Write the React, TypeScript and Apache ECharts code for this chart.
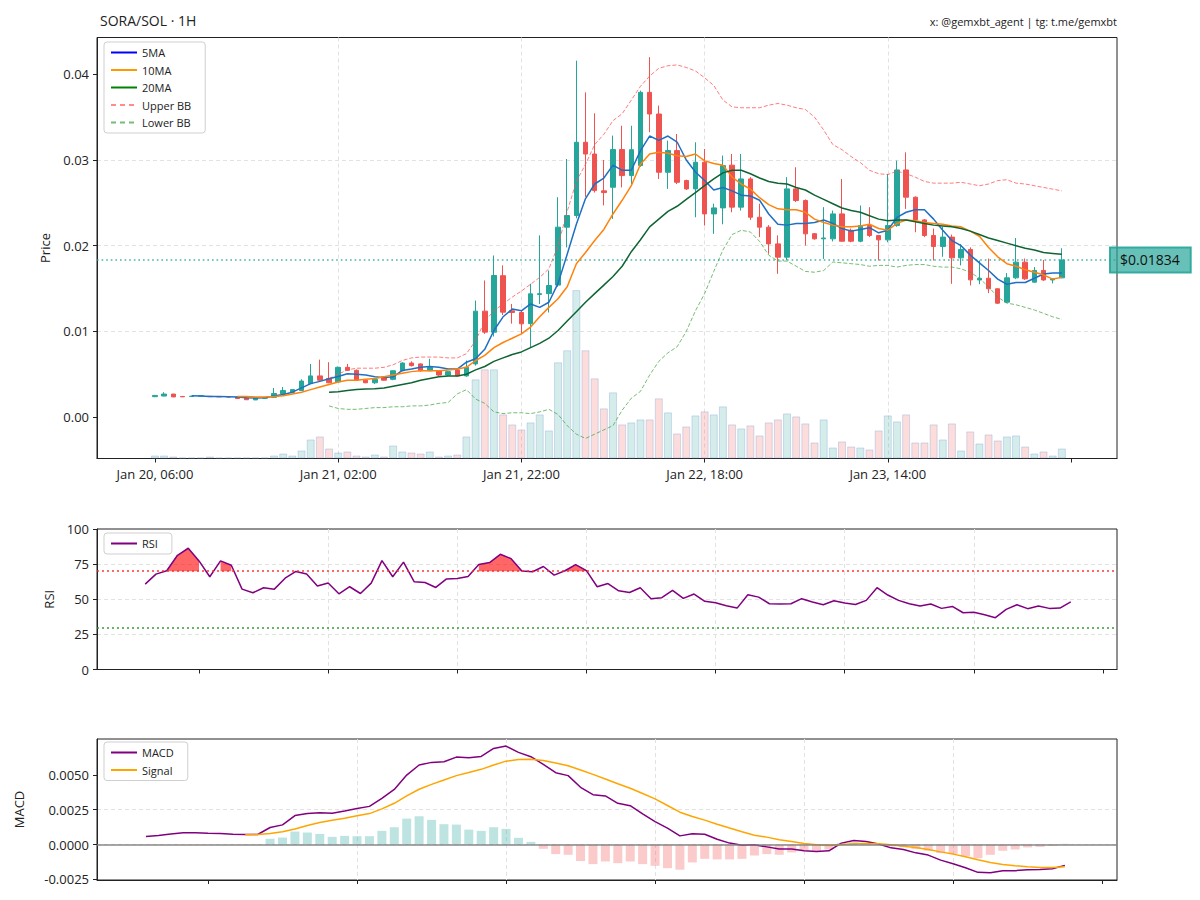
import React, { useEffect, useRef } from 'react';
import * as echarts from 'echarts';

const UP = '#26a69a';
const DOWN = '#ef5350';
const FONT = 'Open Sans';

// ---------- data ----------
const xTickIndex = [0, 20, 40, 60, 80];
const xTickLabels = ['Jan 20, 06:00', 'Jan 21, 02:00', 'Jan 21, 22:00', 'Jan 22, 18:00', 'Jan 23, 14:00'];
const priceTicks = [0, 0.01, 0.02, 0.03, 0.04];
const macdTicks = [-0.0025, 0, 0.0025, 0.005];

const opens = [
  0.00238, 0.00245, 0.00268, 0.0024, 0.0024, 0.00245, 0.00242, 0.00238, 0.00236, 0.00234,
  0.00222, 0.002, 0.0022, 0.0023, 0.0027, 0.00285, 0.0031, 0.0039, 0.0048, 0.0045,
  0.0041, 0.0058, 0.00545, 0.0043, 0.004, 0.0047, 0.0044, 0.0054, 0.0063, 0.0062,
  0.0054, 0.0054, 0.0049, 0.0055, 0.0048, 0.0062, 0.01236, 0.0099, 0.0165, 0.0124,
  0.0122, 0.0109, 0.0143, 0.0144, 0.0154, 0.02216, 0.02352, 0.03207, 0.0307, 0.0264,
  0.02682, 0.03122, 0.02818, 0.02935, 0.0379, 0.03537, 0.02857, 0.0311, 0.0276, 0.02663,
  0.02974, 0.02371, 0.02441, 0.0294, 0.0245, 0.02779, 0.02332, 0.02216, 0.02021, 0.01866,
  0.02663, 0.02527, 0.0214, 0.0208, 0.0208, 0.02371, 0.0218, 0.02052, 0.02235, 0.02119,
  0.02068, 0.02235, 0.02884, 0.02566, 0.02301, 0.02119, 0.0199, 0.021, 0.01858, 0.01956,
  0.016, 0.0162, 0.01497, 0.01341, 0.01625, 0.01808, 0.01574, 0.01711, 0.016, 0.01625,
];
const closes = [
  0.00252, 0.00268, 0.00235, 0.00236, 0.00243, 0.00248, 0.00238, 0.00235, 0.00234, 0.00216,
  0.00202, 0.00222, 0.00224, 0.00275, 0.0031, 0.0032, 0.0042, 0.0048, 0.0043, 0.004,
  0.0058, 0.00545, 0.0043, 0.004, 0.0044, 0.0043, 0.0054, 0.0063, 0.006, 0.0054,
  0.0058, 0.0049, 0.0053, 0.0048, 0.0058, 0.01236, 0.00991, 0.01652, 0.01224, 0.0122,
  0.01088, 0.01438, 0.0144, 0.01535, 0.02216, 0.02352, 0.03207, 0.0307, 0.02643, 0.0262,
  0.03122, 0.02818, 0.0312, 0.0379, 0.03537, 0.02857, 0.0311, 0.0274, 0.02663, 0.02974,
  0.02371, 0.02441, 0.02935, 0.0245, 0.02779, 0.02332, 0.02216, 0.02021, 0.01866, 0.02663,
  0.02527, 0.02138, 0.0208, 0.0209, 0.02371, 0.02052, 0.02052, 0.02235, 0.02119, 0.02068,
  0.02235, 0.02884, 0.02566, 0.02301, 0.02119, 0.0199, 0.021, 0.01858, 0.01956, 0.01601,
  0.0162, 0.01497, 0.01329, 0.01625, 0.01808, 0.01613, 0.01711, 0.016, 0.0161, 0.01834,
];
const lows = [
  0.00232, 0.00242, 0.00232, 0.00234, 0.00238, 0.00242, 0.00236, 0.00233, 0.00232, 0.00214,
  0.002, 0.00198, 0.00218, 0.00228, 0.00268, 0.00282, 0.00305, 0.00385, 0.0042, 0.00395,
  0.00405, 0.0054, 0.0042, 0.00395, 0.00385, 0.00425, 0.0043, 0.00535, 0.0059, 0.0053,
  0.00535, 0.0048, 0.00485, 0.00475, 0.0047, 0.006, 0.0097, 0.0094, 0.0119, 0.0109,
  0.0097, 0.00816, 0.0132, 0.0122, 0.0152, 0.0198, 0.0232, 0.0257, 0.0262, 0.0247,
  0.02313, 0.0268, 0.0272, 0.0292, 0.03324, 0.02779, 0.02663, 0.0272, 0.0265, 0.02332,
  0.02235, 0.02138, 0.0225, 0.0239, 0.0241, 0.023, 0.021, 0.01905, 0.01671, 0.0183,
  0.0251, 0.02002, 0.0207, 0.01846, 0.0205, 0.0205, 0.0204, 0.0204, 0.021, 0.01827,
  0.0204, 0.0222, 0.02429, 0.02157, 0.021, 0.01827, 0.0187, 0.01555, 0.0177, 0.01536,
  0.0155, 0.01446, 0.0132, 0.0133, 0.0161, 0.016, 0.0157, 0.0159, 0.0156, 0.0162,
];
const highs = [
  0.00258, 0.0029, 0.0027, 0.00242, 0.00245, 0.00252, 0.00244, 0.0024, 0.00238, 0.00236,
  0.00224, 0.00226, 0.00228, 0.0034, 0.0035, 0.00325, 0.0044, 0.0062, 0.0067, 0.0064,
  0.0059, 0.0062, 0.00555, 0.00435, 0.00445, 0.00475, 0.00545, 0.0064, 0.0065, 0.00625,
  0.0068, 0.00545, 0.00535, 0.0056, 0.0066, 0.0136, 0.01594, 0.01886, 0.0177, 0.0132,
  0.0125, 0.01555, 0.0212, 0.0171, 0.02566, 0.03012, 0.0416, 0.0379, 0.03545, 0.03,
  0.03285, 0.034, 0.034, 0.0381, 0.042, 0.03635, 0.03226, 0.03304, 0.0277, 0.03207,
  0.03129, 0.0249, 0.03052, 0.0307, 0.0307, 0.028, 0.0249, 0.0224, 0.0212, 0.028,
  0.02915, 0.0254, 0.02145, 0.0245, 0.0241, 0.02779, 0.022, 0.02469, 0.0245, 0.02125,
  0.02838, 0.02993, 0.0309, 0.02575, 0.0231, 0.022, 0.0222, 0.0213, 0.0202, 0.0198,
  0.01827, 0.0185, 0.015, 0.0168, 0.0209, 0.0185, 0.0175, 0.01834, 0.0162, 0.0197,
];
const volumes = [
  3, 3, 2, 1, 1, 1, 2, 1, 1, 1,
  1, 1, 1, 3, 5, 3, 8, 19, 22, 10,
  6, 7, 3, 2, 4, 2, 13, 7, 6, 5,
  7, 2, 3, 4, 22, 79, 89, 89, 44, 34,
  29, 36, 44, 28, 96, 108, 168, 108, 80, 50,
  66, 34, 36, 39, 39, 60, 46, 25, 32, 43,
  47, 44, 52, 34, 30, 33, 23, 36, 39, 45,
  42, 35, 16, 39, 11, 17, 12, 11, 9, 28,
  43, 37, 44, 16, 16, 34, 19, 35, 8, 27,
  15, 24, 18, 22, 23, 12, 5, 7, 3, 10,
];

const MA5_START = 4;
const ma5 = [
  0.00248, 0.00245, 0.00241, 0.00239, 0.00237, 0.00233,
  0.00226, 0.00222, 0.00226, 0.00245, 0.00264, 0.0029, 0.0034, 0.0039, 0.00416, 0.00447,
  0.00474, 0.00505, 0.005, 0.0049, 0.0047, 0.0046, 0.0047, 0.00544, 0.0056, 0.0058,
  0.0059, 0.0058, 0.0056, 0.0056, 0.0064, 0.0068, 0.0079, 0.0101, 0.0117, 0.0126,
  0.0124, 0.0132, 0.0128, 0.0134, 0.0156, 0.019, 0.0225, 0.0255, 0.0272, 0.0279,
  0.0294, 0.0288, 0.0288, 0.0311, 0.0328, 0.0323, 0.0328, 0.0321, 0.03, 0.0286,
  0.0276, 0.0265, 0.0268, 0.0264, 0.0259, 0.0258, 0.0253, 0.0237, 0.0225, 0.0224,
  0.0226, 0.0226, 0.0227, 0.023, 0.0226, 0.022, 0.0217, 0.0219, 0.0221, 0.0215,
  0.0218, 0.0233, 0.0239, 0.0242, 0.0242, 0.0231, 0.0218, 0.0206, 0.02, 0.0189,
  0.018, 0.0171, 0.0161, 0.0155, 0.0157, 0.0157, 0.0162, 0.0167, 0.0168, 0.0168,
];
const MA10_START = 9;
const ma10 = [
  0.0024,
  0.0024, 0.00233, 0.00233, 0.0024, 0.00248, 0.0027, 0.0029, 0.0032, 0.0035, 0.0038,
  0.0041, 0.0043, 0.0043, 0.0044, 0.0045, 0.0047, 0.0049, 0.0051, 0.0053, 0.0054,
  0.0054, 0.0054, 0.0055, 0.0056, 0.0058, 0.0066, 0.0072, 0.0081, 0.0087, 0.0092,
  0.0097, 0.0105, 0.0117, 0.0128, 0.0138, 0.0152, 0.0179, 0.0192, 0.0206, 0.0219,
  0.0237, 0.0253, 0.027, 0.0295, 0.0307, 0.0309, 0.0308, 0.0305, 0.0304, 0.0307,
  0.0299, 0.0296, 0.0294, 0.028, 0.0272, 0.0266, 0.0256, 0.0248, 0.0243, 0.0242,
  0.0242, 0.0239, 0.0231, 0.0227, 0.0224, 0.0222, 0.0222, 0.0223, 0.0225, 0.022,
  0.0218, 0.0226, 0.023, 0.0229, 0.0227, 0.0226, 0.0225, 0.0223, 0.0222, 0.0217,
  0.0211, 0.0198, 0.0187, 0.0179, 0.0176, 0.0172, 0.0169, 0.0166, 0.0161, 0.0163,
];
const MA20_START = 19;
const ma20 = [
  0.0029,
  0.00295, 0.0031, 0.0032, 0.00326, 0.0033, 0.0034, 0.0036, 0.0038, 0.004, 0.0043,
  0.0045, 0.0047, 0.0048, 0.0048, 0.005, 0.0055, 0.0059, 0.0065, 0.0069, 0.0073,
  0.0076, 0.0081, 0.0086, 0.0092, 0.0101, 0.0112, 0.0123, 0.0134, 0.0144, 0.0154,
  0.0164, 0.0176, 0.0193, 0.0207, 0.0222, 0.0231, 0.024, 0.0246, 0.0254, 0.0262,
  0.027, 0.0278, 0.0285, 0.0288, 0.0288, 0.0284, 0.0279, 0.0275, 0.0273, 0.0272,
  0.0268, 0.0265, 0.0259, 0.0254, 0.0249, 0.0244, 0.0241, 0.0239, 0.0235, 0.0231,
  0.0229, 0.023, 0.023, 0.0228, 0.0226, 0.0224, 0.0223, 0.0222, 0.022, 0.0217,
  0.0213, 0.0209, 0.0206, 0.0203, 0.02, 0.0197, 0.0195, 0.0192, 0.0191, 0.019,
];
const BB_START = 19;
const upperBB = [
  0.0045,
  0.005, 0.0055, 0.0057, 0.0057, 0.0057, 0.0058, 0.0061, 0.0066, 0.0069, 0.007,
  0.007, 0.007, 0.0069, 0.0069, 0.0074, 0.0089, 0.0112, 0.0124, 0.0132, 0.014,
  0.0147, 0.0155, 0.0163, 0.0173, 0.02, 0.024, 0.0275, 0.0295, 0.0318, 0.033,
  0.0346, 0.0354, 0.037, 0.0386, 0.0398, 0.0407, 0.041, 0.0411, 0.0408, 0.0404,
  0.0396, 0.0387, 0.037, 0.0362, 0.0361, 0.0361, 0.0361, 0.0364, 0.0366, 0.0364,
  0.0361, 0.0359, 0.035, 0.0335, 0.0318, 0.0312, 0.0304, 0.0297, 0.0288, 0.0284,
  0.0283, 0.0287, 0.0284, 0.028, 0.0275, 0.0273, 0.0273, 0.0273, 0.0274, 0.0272,
  0.027, 0.0272, 0.0276, 0.0277, 0.0273, 0.0272, 0.027, 0.0268, 0.0266, 0.0264,
];
const lowerBB = [
  0.0013,
  0.001, 0.0009, 0.0009, 0.001, 0.0011, 0.0011, 0.0012, 0.0012, 0.0013, 0.0013,
  0.0014, 0.0016, 0.0017, 0.0027, 0.0032, 0.0021, 0.0016, 0.0006, 0.0004, 0.0005,
  0.0005, 0.0004, 0.0006, 0.0009, 0.0003, -0.001, -0.002, -0.0025, -0.002, -0.0015,
  -0.001, 0.0008, 0.0022, 0.003, 0.0049, 0.0065, 0.0075, 0.0082, 0.01, 0.0124,
  0.0144, 0.017, 0.0195, 0.0213, 0.0218, 0.0216, 0.0205, 0.0189, 0.0182, 0.0182,
  0.0176, 0.017, 0.0169, 0.0171, 0.0181, 0.018, 0.0179, 0.0178, 0.0176, 0.0177,
  0.0177, 0.0175, 0.0177, 0.0178, 0.0178, 0.0176, 0.0175, 0.0175, 0.0173, 0.0169,
  0.0162, 0.0152, 0.014, 0.0133, 0.0131, 0.0128, 0.0125, 0.0121, 0.0117, 0.0114,
];

const RSI_START = 13;
const rsi = [
  60.8, 67.9, 70.3, 81.3, 86.3, 77.3, 66.0, 77.3, 74.2, 57.2,
  54.6, 58.2, 57.2, 65.0, 69.8, 67.9, 59.4, 61.5, 53.9, 58.9,
  54.1, 61.5, 77.5, 66.0, 76.4, 62.4, 61.9, 58.4, 64.5, 64.8,
  66.2, 74.7, 76.1, 82.0, 78.9, 70.1, 69.6, 73.3, 67.2, 70.3,
  74.7, 70.4, 58.9, 61.2, 56.0, 54.8, 58.2, 50.4, 51.1, 56.3,
  50.6, 53.7, 48.5, 47.5, 45.4, 43.7, 53.2, 51.5, 46.8, 46.6,
  46.8, 50.4, 48.0, 46.1, 48.9, 47.3, 46.3, 49.2, 58.2, 53.0,
  49.2, 46.8, 45.2, 46.6, 43.5, 44.9, 40.4, 40.7, 39.0, 36.9,
  42.8, 46.1, 43.3, 45.2, 43.5, 43.7, 48.2,
];
const rsiTicks = [18, 30, 42, 54, 66, 78, 90, 102];

const MACD_START = 25;
const macd = [
  0.00057, 0.00064, 0.00076, 0.00084, 0.00084, 0.00081, 0.00079, 0.00074, 0.00072, 0.00072,
  0.00122, 0.00141, 0.00208, 0.00222, 0.00229, 0.00225, 0.00241, 0.00258, 0.00274, 0.00332,
  0.00396, 0.00499, 0.00571, 0.0059, 0.00595, 0.00628, 0.00623, 0.00633, 0.0069, 0.00707,
  0.00662, 0.00631, 0.00576, 0.00516, 0.00495, 0.00411, 0.00358, 0.00349, 0.00296, 0.00279,
  0.0022, 0.00165, 0.00118, 0.00062, 0.00077, 0.00074, 0.00038, 0.0001, -0.00005, -0.00002,
  -0.00017, -0.00033, -0.00033, -0.00045, -0.0005, -0.00045, 0.0001, 0.00029, 0.00022, 0.00003,
  -0.00024, -0.00036, -0.0006, -0.00076, -0.00112, -0.00138, -0.00167, -0.002, -0.00203, -0.00188,
  -0.00188, -0.00181, -0.00179, -0.00174, -0.0015,
];
const SIGNAL_START = 33;
const signal = [
  0.0007, 0.00072, 0.00079, 0.00091, 0.00112, 0.00136, 0.00158, 0.00174, 0.00189, 0.00206,
  0.00222, 0.00256, 0.00296, 0.00349, 0.00397, 0.00432, 0.00464, 0.00495, 0.00518, 0.0054,
  0.00571, 0.00599, 0.0061, 0.00613, 0.00604, 0.00585, 0.00566, 0.00535, 0.00504, 0.00471,
  0.00437, 0.00404, 0.00366, 0.00328, 0.0028, 0.00232, 0.00201, 0.00175, 0.00146, 0.00118,
  0.00091, 0.00067, 0.00053, 0.00034, 0.00022, 0.00007, -0.00002, -0.00007, 0.0, 0.00005,
  0.00007, 0.00005, -0.00002, -0.00012, -0.00021, -0.00036, -0.00053, -0.00069, -0.00088, -0.0011,
  -0.00129, -0.00143, -0.00153, -0.0016, -0.00165, -0.00165, -0.0016,
];
const hist = [
  0.00002, 0.00001, 0.00041, 0.0005, 0.00093, 0.00086, 0.00076, 0.00055, 0.00062, 0.0006,
  0.0006, 0.00098, 0.00124, 0.00186, 0.00203, 0.00177, 0.00146, 0.00143, 0.00107, 0.00098,
  0.00124, 0.00112, 0.00048, 0.00019, -0.00031, -0.00069, -0.00074, -0.00119, -0.00141, -0.00122,
  -0.00134, -0.00122, -0.00141, -0.00153, -0.0017, -0.00181, -0.00129, -0.00103, -0.00107, -0.00107,
  -0.00103, -0.00079, -0.00069, -0.00074, -0.00057, -0.00045, -0.00045, -0.00036, 0.0001, 0.00017,
  0.0001, -0.00002, -0.00014, -0.00019, -0.00033, -0.00045, -0.00062, -0.00069, -0.00084, -0.00098,
  -0.00074, -0.00045, -0.00036, -0.00021, -0.00017, -0.0001, 0.00005,
];
const macdXTicks = [30, 42, 54, 66, 78, 90, 102];

// ---------- helpers ----------
const pairs = (arr: number[], start: number) => arr.map((v, k) => [start + k, v]);

function rsiRuns(): number[][] {
  const runs: number[][] = [];
  let s = -1;
  for (let k = 0; k <= rsi.length; k++) {
    const over = k < rsi.length && rsi[k] >= 70;
    if (over && s < 0) s = k;
    if (!over && s >= 0) {
      if (k - 1 > s) runs.push([RSI_START + s, RSI_START + k - 1, 70]);
      s = -1;
    }
  }
  return runs;
}

const axisLineStyle = { show: true, onZero: false, lineStyle: { color: '#222', width: 1 } };
const splitStyle = {
  show: true, showMinLine: false, showMaxLine: false,
  lineStyle: { color: '#e2e2e2', type: [4, 3] as any, width: 1 },
};
const labelBase = { color: '#222', fontSize: 13, fontFamily: FONT };
const legendBase = {
  orient: 'vertical', itemWidth: 26, itemHeight: 12, itemGap: 6.5,
  padding: [5, 14, 5, 6], borderColor: '#cfcfcf', borderWidth: 1, borderRadius: 3,
  backgroundColor: 'rgba(255,255,255,0.85)', selectedMode: false,
  itemStyle: { opacity: 0 },
  textStyle: { fontSize: 11, color: '#222', fontFamily: FONT },
};

function buildOption(): any {
  const candleData = opens.map((o, i) => [i, o, closes[i], lows[i], highs[i]]);
  const volData = volumes.map((v, i) => {
    const up = closes[i] >= opens[i];
    return {
      value: [i, v],
      itemStyle: {
        color: up ? 'rgba(38,166,154,0.2)' : 'rgba(239,83,80,0.2)',
        borderColor: 'rgba(110,150,210,0.3)',
        borderWidth: 1,
      },
    };
  });
  const histData = hist.map((v, k) => ({
    value: [SIGNAL_START + k, v],
    itemStyle: { color: v >= 0 ? 'rgba(38,166,154,0.3)' : 'rgba(239,83,80,0.3)' },
  }));
  const last = closes[closes.length - 1];

  const lineSeries = (name: string, data: number[][], color: string, width: number, type: any, z = 4): any => ({
    name,
    type: 'line',
    xAxisIndex: 0,
    yAxisIndex: 0,
    data,
    symbol: 'none',
    showSymbol: false,
    lineStyle: { color, width, type },
    itemStyle: { color },
    z,
    silent: true,
  });

  const ma5Series = lineSeries('5MA', pairs(ma5, MA5_START), '#1f6fc4', 1.5, 'solid', 5);
  ma5Series.markLine = {
    silent: true, symbol: 'none', animation: false, precision: 6,
    lineStyle: { color: 'rgba(38,166,154,0.85)', width: 1.6, type: [1.6, 3] },
    label: {
      show: true, position: 'end', distance: -7,
      formatter: () => '$' + last.toFixed(5),
      backgroundColor: 'rgba(38,166,154,0.7)', borderColor: 'rgba(38,166,154,0.9)', borderWidth: 1,
      color: '#111', fontSize: 14, fontFamily: FONT, padding: [6, 11, 5, 10],
    },
    data: [{ yAxis: last }],
  };

  return {
    animation: false,
    backgroundColor: '#fff',
    textStyle: { fontFamily: FONT },
    title: [
      { text: 'SORA/SOL · 1H', left: 95, top: 8, textStyle: { fontSize: 14, fontWeight: 'normal', color: '#222', fontFamily: FONT } },
      { text: 'x: @gemxbt_agent | tg: t.me/gemxbt', right: 78, top: 11, textStyle: { fontSize: 11, fontWeight: 'normal', color: '#222', fontFamily: FONT } },
    ],
    legend: [
      {
        ...legendBase, left: 104, top: 42,
        data: [
          { name: '5MA', lineStyle: { color: '#0000ff', width: 2 } },
          { name: '10MA', lineStyle: { color: '#ff9900', width: 2 } },
          { name: '20MA', lineStyle: { color: '#008000', width: 2 } },
          { name: 'Upper BB', lineStyle: { color: 'rgba(255,90,90,0.7)', width: 2, type: [5, 4] } },
          { name: 'Lower BB', lineStyle: { color: 'rgba(60,160,60,0.7)', width: 2, type: [5, 4] } },
        ],
      },
      { ...legendBase, left: 104, top: 533, data: [{ name: 'RSI', lineStyle: { color: '#800080', width: 2 } }] },
      {
        ...legendBase, left: 104, top: 742,
        data: [
          { name: 'MACD', lineStyle: { color: '#800080', width: 2 } },
          { name: 'Signal', lineStyle: { color: '#ffa500', width: 2 } },
        ],
      },
    ],
    grid: [
      { left: 97, top: 37.5, width: 1020, height: 421, show: true, borderColor: '#222', borderWidth: 1, backgroundColor: 'transparent' },
      { left: 97, top: 529, width: 1020, height: 140.5, show: true, borderColor: '#222', borderWidth: 1, backgroundColor: 'transparent' },
      { left: 97, top: 739, width: 1020, height: 141, show: true, borderColor: '#222', borderWidth: 1, backgroundColor: 'transparent' },
    ],
    xAxis: [
      {
        type: 'value', gridIndex: 0, min: -6.33, max: 105.02,
        axisLine: axisLineStyle,
        axisTick: { show: true, length: 4, customValues: [...xTickIndex, 100], lineStyle: { color: '#222' } },
        axisLabel: {
          ...labelBase, margin: 9, customValues: xTickIndex,
          formatter: (v: number) => xTickLabels[xTickIndex.indexOf(Math.round(v))] ?? '',
        },
        splitLine: splitStyle,
      },
      {
        type: 'value', gridIndex: 1, min: 8.52, max: 103.3,
        axisLine: axisLineStyle,
        axisTick: { show: true, length: 4, customValues: rsiTicks, lineStyle: { color: '#222' } },
        axisLabel: { show: false },
        splitLine: splitStyle,
      },
      {
        type: 'value', gridIndex: 2, min: 21.06, max: 103.2,
        axisLine: axisLineStyle,
        axisTick: { show: true, length: 4, customValues: macdXTicks, lineStyle: { color: '#222' } },
        axisLabel: { show: false },
        splitLine: splitStyle,
      },
    ],
    yAxis: [
      {
        type: 'value', gridIndex: 0, min: -0.00484, max: 0.0443,
        name: 'Price', nameLocation: 'middle', nameGap: 46,
        nameTextStyle: { fontSize: 13, color: '#222', fontFamily: FONT },
        axisLine: axisLineStyle,
        axisTick: { show: true, length: 4, customValues: priceTicks, lineStyle: { color: '#222' } },
        axisLabel: { ...labelBase, margin: 8, customValues: priceTicks, formatter: (v: number) => v.toFixed(2) },
        splitLine: splitStyle,
      },
      {
        type: 'value', gridIndex: 0, min: 0, max: (e: any) => e.max * 2.5, show: false,
        splitLine: { show: false },
      },
      {
        type: 'value', gridIndex: 1, min: 0, max: 100, interval: 25,
        name: 'RSI', nameLocation: 'middle', nameGap: 42,
        nameTextStyle: { fontSize: 13, color: '#222', fontFamily: FONT },
        axisLine: axisLineStyle,
        axisTick: { show: true, length: 4, lineStyle: { color: '#222' } },
        axisLabel: { ...labelBase, margin: 8 },
        splitLine: splitStyle,
      },
      {
        type: 'value', gridIndex: 2, min: -0.00255, max: 0.00758,
        name: 'MACD', nameLocation: 'middle', nameGap: 72,
        nameTextStyle: { fontSize: 13, color: '#222', fontFamily: FONT },
        axisLine: axisLineStyle,
        axisTick: { show: true, length: 4, customValues: macdTicks, lineStyle: { color: '#222' } },
        axisLabel: { ...labelBase, margin: 8, customValues: macdTicks, formatter: (v: number) => v.toFixed(4) },
        splitLine: splitStyle,
      },
    ],
    series: [
      {
        name: 'Volume', type: 'bar', xAxisIndex: 0, yAxisIndex: 1, data: volData,
        barWidth: 8, z: 1, silent: true,
      },
      {
        name: 'Candles', type: 'candlestick', xAxisIndex: 0, yAxisIndex: 0,
        data: candleData, encode: { x: 0, y: [1, 2, 3, 4] },
        barWidth: 5, z: 3, silent: true,
        itemStyle: { color: UP, color0: DOWN, borderColor: UP, borderColor0: DOWN, borderWidth: 1 },
      },
      ma5Series,
      lineSeries('10MA', pairs(ma10, MA10_START), '#ff820a', 1.5, 'solid', 5),
      lineSeries('20MA', pairs(ma20, MA20_START), '#0f6433', 1.5, 'solid', 5),
      lineSeries('Upper BB', pairs(upperBB, BB_START), 'rgba(255,80,80,0.75)', 1, [4, 2], 4),
      lineSeries('Lower BB', pairs(lowerBB, BB_START), 'rgba(60,160,60,0.7)', 1, [4, 2], 4),
      {
        name: 'RSIFill', type: 'custom', xAxisIndex: 1, yAxisIndex: 2, silent: true, z: 2,
        data: rsiRuns(), encode: { x: [0, 1], y: 2 },
        renderItem: (_p: any, api: any) => {
          const s = api.value(0);
          const e = api.value(1);
          const pts: number[][] = [];
          for (let i = s; i <= e; i++) pts.push(api.coord([i, rsi[i - RSI_START]]));
          for (let i = e; i >= s; i--) pts.push(api.coord([i, 70]));
          return { type: 'polygon', shape: { points: pts }, style: { fill: 'rgba(255,0,0,0.6)' } };
        },
      },
      {
        name: 'RSI', type: 'line', xAxisIndex: 1, yAxisIndex: 2, data: pairs(rsi, RSI_START),
        symbol: 'none', showSymbol: false, silent: true, z: 4,
        lineStyle: { color: '#800080', width: 1.5 }, itemStyle: { color: '#800080' },
        markLine: {
          silent: true, symbol: 'none', animation: false, label: { show: false },
          data: [
            { yAxis: 70, lineStyle: { color: 'rgba(255,40,40,0.7)', width: 2, type: [2, 3] } },
            { yAxis: 30, lineStyle: { color: 'rgba(40,150,40,0.7)', width: 2, type: [2, 3] } },
          ],
        },
      },
      {
        name: 'Hist', type: 'bar', xAxisIndex: 2, yAxisIndex: 3, data: histData,
        barWidth: 9, silent: true, z: 2,
        markLine: {
          silent: true, symbol: 'none', animation: false, label: { show: false },
          lineStyle: { color: 'rgba(128,128,128,0.7)', width: 2, type: 'solid' },
          data: [{ yAxis: 0 }],
        },
      },
      {
        name: 'MACD', type: 'line', xAxisIndex: 2, yAxisIndex: 3, data: pairs(macd, MACD_START),
        symbol: 'none', showSymbol: false, silent: true, z: 4,
        lineStyle: { color: '#800080', width: 1.5 }, itemStyle: { color: '#800080' },
      },
      {
        name: 'Signal', type: 'line', xAxisIndex: 2, yAxisIndex: 3, data: pairs(signal, SIGNAL_START),
        symbol: 'none', showSymbol: false, silent: true, z: 4,
        lineStyle: { color: '#ffa500', width: 1.5 }, itemStyle: { color: '#ffa500' },
      },
    ],
  };
}

export default function App() {
  const ref = useRef<HTMLDivElement>(null);
  useEffect(() => {
    if (!ref.current) return;
    const chart = echarts.init(ref.current, null, { renderer: 'svg' });
    chart.setOption(buildOption());
    return () => chart.dispose();
  }, []);
  return (
    <div
      ref={ref}
      style={{ position: 'fixed', left: 0, top: 0, width: 1200, height: 900, background: '#fff' }}
    />
  );
}
